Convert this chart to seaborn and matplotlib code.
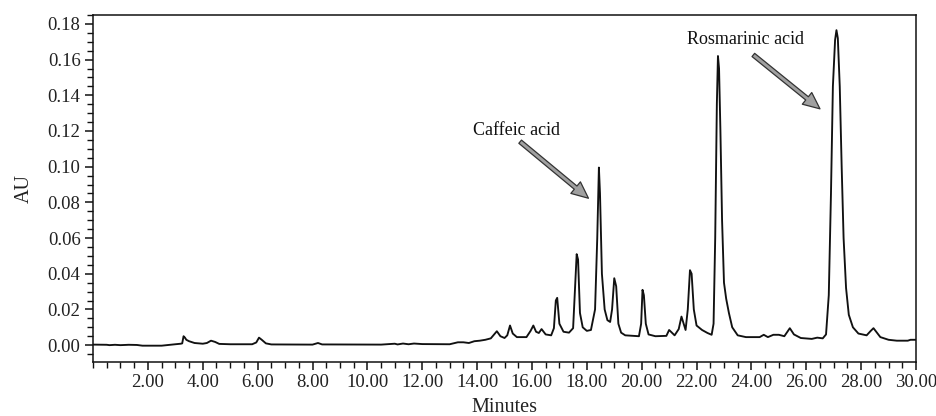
import matplotlib
matplotlib.use("Agg")
import matplotlib.pyplot as plt
from matplotlib.ticker import MultipleLocator, FixedLocator
import seaborn as sns
import pandas as pd

# Chromatogram trace (retention time in minutes, absorbance in AU)
minutes = [
    0.0, 0.5, 0.6, 0.8, 1.0, 1.3, 1.6, 1.8, 2.5, 2.8, 3.0, 3.2,
    3.25, 3.3, 3.35, 3.4, 3.5, 3.7, 4.0,
    4.15, 4.3, 4.45, 4.6, 5.0, 5.8,
    5.95, 6.05, 6.15, 6.3, 6.5, 8.0, 8.2, 8.35, 10.5, 11.0, 11.1, 11.3, 11.5, 11.7, 12.0,
    13.0, 13.3, 13.5, 13.7, 13.9, 14.1, 14.3, 14.5,
    14.65, 14.72, 14.85, 15.0, 15.1, 15.2, 15.3, 15.45, 15.8, 15.95, 16.05, 16.15, 16.25,
    16.35, 16.5, 16.7, 16.8, 16.87, 16.92, 17.0, 17.15, 17.35, 17.5, 17.58, 17.63, 17.68,
    17.75, 17.85, 18.0, 18.15, 18.3, 18.38, 18.44, 18.48, 18.55, 18.65, 18.75, 18.85,
    18.92, 19.0, 19.07, 19.15, 19.25, 19.4, 19.9, 19.98, 20.03, 20.08, 20.15, 20.25, 20.5,
    20.9, 21.0, 21.1, 21.2, 21.35, 21.45, 21.53, 21.6, 21.68, 21.76, 21.82, 21.9, 22.0,
    22.2, 22.4, 22.55, 22.62, 22.68, 22.74, 22.78, 22.82, 22.87, 22.93, 23.0, 23.08, 23.18,
    23.3, 23.5, 23.8, 24.3, 24.45, 24.6, 24.8, 25.0, 25.2, 25.4, 25.55, 25.8, 26.2, 26.4,
    26.6, 26.72, 26.82, 26.9, 26.97, 27.05, 27.1, 27.15, 27.22, 27.29, 27.36, 27.45, 27.55, 27.7,
    27.9, 28.2, 28.35, 28.45, 28.55, 28.7, 29.0, 29.3, 29.7, 29.8, 30.0,
]
absorbance = [
    0.0003, 0.0002, 0.0000, 0.0002, 0.0000, 0.0002, 0.0001, -0.0003, -0.0003, 0.0002, 0.0005, 0.0008,
    0.0010, 0.0050, 0.0042, 0.0030, 0.0022, 0.0012, 0.0008,
    0.0012, 0.0025, 0.0018, 0.0007, 0.0005, 0.0005,
    0.0015, 0.0042, 0.0030, 0.0010, 0.0004, 0.0003, 0.0012, 0.0004, 0.0003, 0.0008, 0.0004, 0.0009, 0.0005, 0.0009, 0.0006,
    0.0005, 0.0016, 0.0016, 0.0012, 0.0022, 0.0025, 0.0030, 0.0038,
    0.0065, 0.0078, 0.0050, 0.0040, 0.0055, 0.0110, 0.0065, 0.0045, 0.0045, 0.0080, 0.0110, 0.0075, 0.0068,
    0.0090, 0.0060, 0.0055, 0.0095, 0.0250, 0.0265, 0.0120, 0.0075, 0.0070, 0.0095, 0.0350, 0.0510, 0.0480,
    0.0180, 0.0100, 0.0080, 0.0085, 0.0200, 0.0600, 0.0995, 0.0850, 0.0400, 0.0200, 0.0140, 0.0130,
    0.0200, 0.0375, 0.0330, 0.0120, 0.0070, 0.0055, 0.0050, 0.0120, 0.0310, 0.0280, 0.0120, 0.0060, 0.0050,
    0.0052, 0.0085, 0.0070, 0.0055, 0.0090, 0.0160, 0.0120, 0.0085, 0.0200, 0.0420, 0.0400, 0.0200, 0.0110,
    0.0085, 0.0068, 0.0058, 0.0120, 0.0600, 0.1350, 0.1620, 0.1550, 0.1200, 0.0700, 0.0350, 0.0260, 0.0180,
    0.0100, 0.0055, 0.0045, 0.0045, 0.0058, 0.0045, 0.0058, 0.0058, 0.0050, 0.0095, 0.0060, 0.0040, 0.0035, 0.0042,
    0.0038, 0.0060, 0.0280, 0.0850, 0.1450, 0.1710, 0.1765, 0.1720, 0.1450, 0.1000, 0.0600, 0.0320, 0.0170, 0.0100,
    0.0065, 0.0055, 0.0080, 0.0095, 0.0075, 0.0045, 0.0030, 0.0025, 0.0025, 0.0030, 0.0030,
]

x_ticks = [2, 4, 6, 8, 10, 12, 14, 16, 18, 20, 22, 24, 26, 28, 30]
x_tick_labels = ["2.00", "4.00", "6.00", "8.00", "10.00", "12.00", "14.00", "16.00",
                 "18.00", "20.00", "22.00", "24.00", "26.00", "28.00", "30.00"]
y_ticks = [0.00, 0.02, 0.04, 0.06, 0.08, 0.10, 0.12, 0.14, 0.16, 0.18]
y_tick_labels = ["0.00", "0.02", "0.04", "0.06", "0.08", "0.10", "0.12", "0.14", "0.16", "0.18"]

annotations = ["Caffeic acid", "Rosmarinic acid"]

df = pd.DataFrame({"Minutes": minutes, "AU": absorbance})

sns.set_theme(style="white")
plt.rcParams["font.family"] = ["Liberation Serif", "DejaVu Serif"]

fig = plt.figure(figsize=(9.37, 4.16), dpi=100)
ax = fig.add_axes([0.0993, 0.130, 0.8783, 0.834])

sns.lineplot(data=df, x="Minutes", y="AU", ax=ax, color="#111111", linewidth=1.35,
             estimator=None, sort=False)

ax.set_xlim(0, 30)
ax.set_ylim(-0.0094, 0.185)

ax.xaxis.set_major_locator(FixedLocator(x_ticks))
ax.set_xticklabels(x_tick_labels)
ax.xaxis.set_minor_locator(MultipleLocator(0.5))
ax.yaxis.set_major_locator(FixedLocator(y_ticks))
ax.set_yticklabels(y_tick_labels)
ax.yaxis.set_minor_locator(MultipleLocator(0.005))

ax.tick_params(axis="both", which="major", direction="out", length=6, width=1.1,
               color="#111111", labelsize=13.5, labelcolor="#222222", pad=3,
               bottom=True, left=True, top=False, right=False)
ax.tick_params(axis="both", which="minor", direction="out", length=4, width=1.0,
               color="#111111", bottom=True, left=True, top=False, right=False)

for s in ax.spines.values():
    s.set_color("#111111")
    s.set_linewidth(1.1)
    s.set_visible(True)

ax.set_xlabel("Minutes", fontsize=14.5, color="#222222", labelpad=5)
ax.set_ylabel("AU", fontsize=14.5, color="#222222", labelpad=10)

arrowprops = dict(arrowstyle="simple,head_length=1.0,head_width=0.9,tail_width=0.25",
                  facecolor="#a0a0a0", edgecolor="#333333", linewidth=0.9,
                  shrinkA=0, shrinkB=0)

ax.text(15.45, 0.1203, annotations[0], ha="center", va="center", fontsize=13, color="#111111")
ax.annotate("", xy=(18.06, 0.0823), xytext=(15.57, 0.1140), arrowprops=arrowprops)

ax.text(23.79, 0.1715, annotations[1], ha="center", va="center", fontsize=13, color="#111111")
ax.annotate("", xy=(26.5, 0.1324), xytext=(24.07, 0.1626), arrowprops=arrowprops)

fig.savefig("out.png", dpi=100, facecolor="white")
